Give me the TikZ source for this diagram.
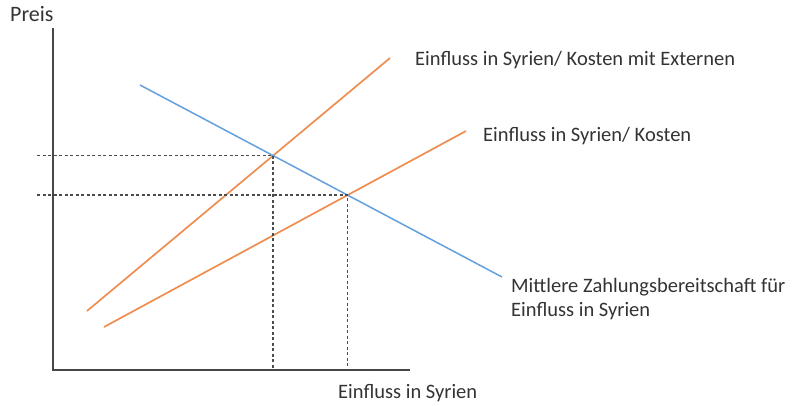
\documentclass[tikz,border=0pt]{standalone}
\usepackage{fontspec}
\setmainfont{Carlito}
\usetikzlibrary{calc}
\definecolor{curveorange}{RGB}{240,140,80}
\definecolor{curveblue}{RGB}{100,160,220}
\definecolor{axisgray}{RGB}{70,70,70}
\begin{document}
\begin{tikzpicture}[x=1pt,y=-1pt,
  axisline/.style={draw=axisgray,line width=1.8pt},
  orangeline/.style={draw=curveorange,line width=1.7pt},
  blueline/.style={draw=curveblue,line width=1.5pt},
  guide/.style={draw=black!70,line width=1.4pt,dash pattern=on 3pt off 2.5pt},
  lbl/.style={font=\fontsize{20.5}{24}\selectfont,text=black!80,inner sep=0pt,anchor=west,align=left}]
\useasboundingbox (0,0) rectangle (796,405);
% axes
\coordinate (ytop) at (53,28);
\coordinate (origin) at (53,370);
\coordinate (xend) at (410,370);
\draw[axisline] (ytop) -- (origin) -- (xend);
% curves
\coordinate (s1) at (87,311);
\coordinate (s2) at (390,58);
\coordinate (k1) at (104,327);
\coordinate (k2) at (466,131);
\coordinate (d1) at (140,85);
\coordinate (d2) at (502,277);
\draw[orangeline] (s1) -- (s2);
\draw[orangeline] (k1) -- (k2);
\draw[blueline] (d1) -- (d2);
% intersections
\coordinate (e1) at (intersection of s1--s2 and d1--d2);
\coordinate (e2) at (intersection of k1--k2 and d1--d2);
\coordinate (p1) at (37,0 |- e1);
\coordinate (p2) at (37,0 |- e2);
\coordinate (q1) at (e1 |- origin);
\coordinate (q2) at (e2 |- origin);
\draw[guide] (p1) -- (e1) -- (q1);
\draw[guide] (p2) -- (e2) -- (q2);
% labels
\node[lbl,font=\fontsize{22}{26}\selectfont] (preis) at (10,14) {Preis};
\node[lbl] (xlabel) at (338,393) {Einfluss in Syrien};
\node[lbl] (lext) at (415,60) {Einfluss in Syrien/ Kosten mit Externen};
\node[lbl] (lkost) at (483,136) {Einfluss in Syrien/ Kosten};
\node[lbl] (ldem) at (511,299) {Mittlere Zahlungsbereitschaft für\\Einfluss in Syrien};
\end{tikzpicture}
\end{document}
